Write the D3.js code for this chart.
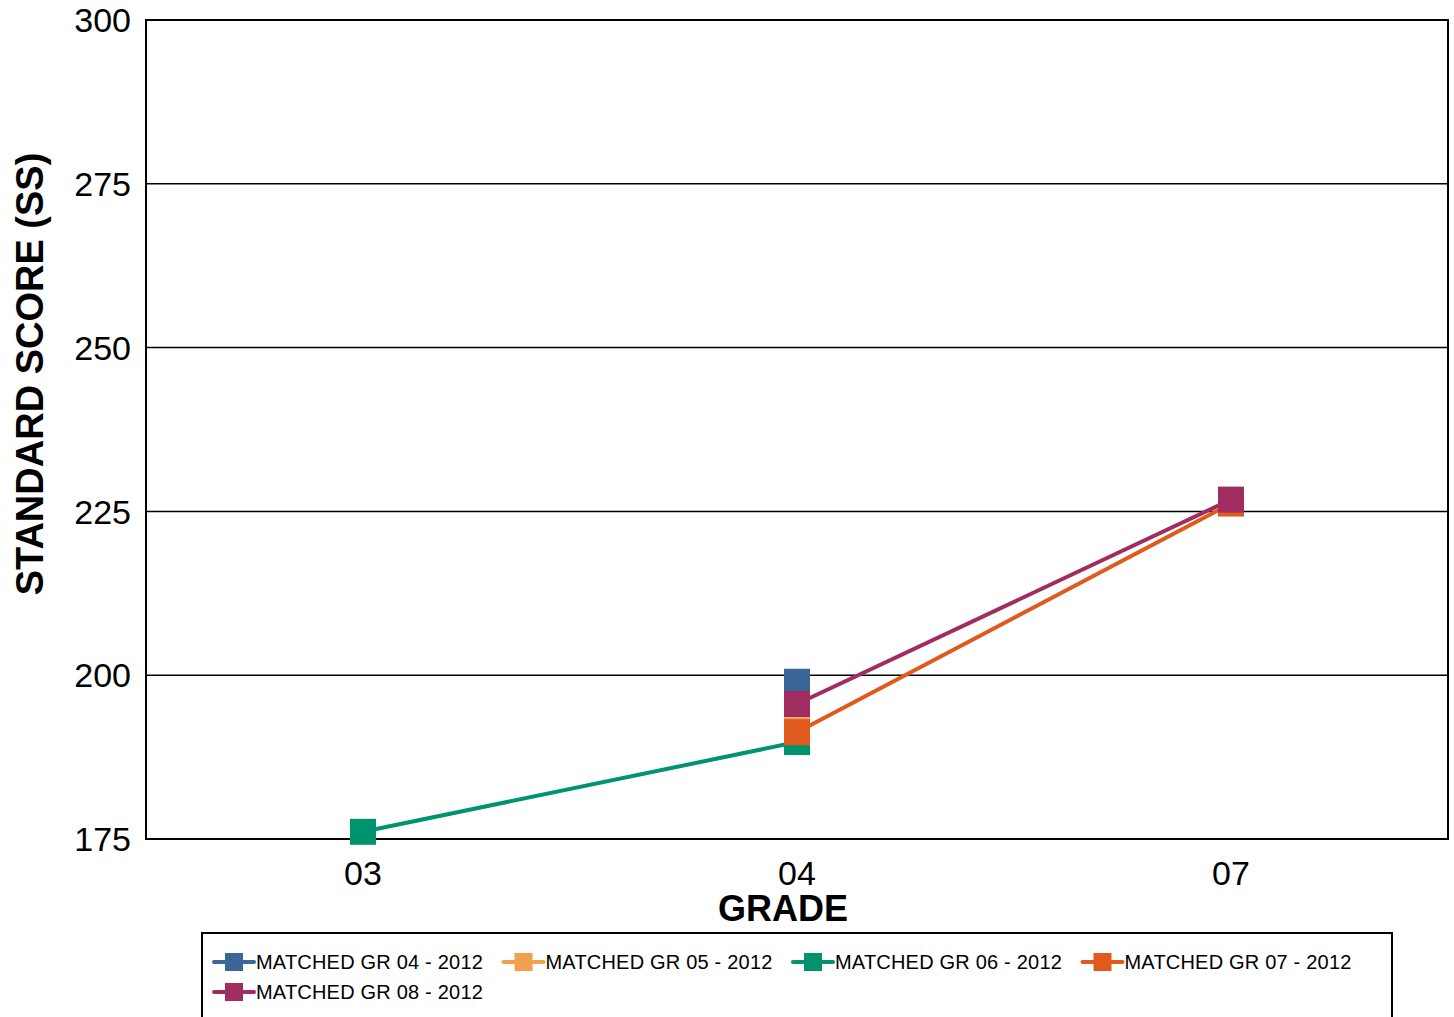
<!DOCTYPE html>
<html>
<head>
<meta charset="utf-8">
<script src="https://cdn.jsdelivr.net/npm/d3@7"></script>
<style>
  body { margin: 0; background: #fff; }
  svg { display: block; font-family: "Liberation Sans", Arial, sans-serif; }
</style>
</head>
<body>
<div id="chart"></div>
<script>
// grades on the x axis
const grades = ["03", "04", "07"];
const yTicks = [175, 200, 225, 250, 275, 300];

// one list per matched cohort
const seriesNames = ["MATCHED GR 04 - 2012", "MATCHED GR 05 - 2012", "MATCHED GR 06 - 2012",
                     "MATCHED GR 07 - 2012", "MATCHED GR 08 - 2012"];
const seriesColors = ["#3a6698", "#f0a04f", "#00936e", "#e05a1e", "#a12c5f"];
const gr04 = [{g: "04", v: 199.0}];
const gr05 = [{g: "04", v: 191.6}];
const gr06 = [{g: "03", v: 176.1}, {g: "04", v: 189.8}];
const gr07 = [{g: "04", v: 191.3}, {g: "07", v: 226.2}];
const gr08 = [{g: "04", v: 195.6}, {g: "07", v: 226.8}];
const seriesData = [gr04, gr05, gr06, gr07, gr08];

const W = 1454, H = 1017;
const margin = {top: 20, right: 6, bottom: 178, left: 146};
const width = W - margin.left - margin.right;
const height = H - margin.top - margin.bottom;

const svg = d3.select("#chart").append("svg")
    .attr("width", W)
    .attr("height", H);

const g = svg.append("g")
    .attr("transform", `translate(${margin.left},${margin.top})`);

const x = d3.scalePoint().domain(grades).range([0, width]).padding(0.5);
const y = d3.scaleLinear().domain([175, 300]).range([height, 0]);

// gridlines
g.append("g")
    .selectAll("line")
    .data(yTicks)
    .join("line")
    .attr("x1", 0).attr("x2", width)
    .attr("y1", d => y(d)).attr("y2", d => y(d))
    .attr("stroke", "#000")
    .attr("stroke-width", 1.5);

// frame
g.append("rect")
    .attr("width", width).attr("height", height)
    .attr("fill", "none")
    .attr("stroke", "#000")
    .attr("stroke-width", 2);

// y tick labels
g.append("g")
    .attr("font-size", 34)
    .attr("text-anchor", "end")
    .selectAll("text")
    .data(yTicks)
    .join("text")
    .attr("x", -15)
    .attr("y", d => y(d))
    .attr("dy", "0.36em")
    .text(d => d);

// x tick labels
g.append("g")
    .attr("font-size", 34)
    .attr("text-anchor", "middle")
    .selectAll("text")
    .data(grades)
    .join("text")
    .attr("x", d => x(d))
    .attr("y", height + 46)
    .text(d => d);

// axis titles
g.append("text")
    .attr("x", width / 2 - 14)
    .attr("y", height + 82)
    .attr("text-anchor", "middle")
    .attr("font-size", 36)
    .attr("font-weight", "bold")
    .text("GRADE");

svg.append("text")
    .attr("transform", `translate(43,${374}) rotate(-90)`)
    .attr("text-anchor", "middle")
    .attr("font-size", 38)
    .attr("font-weight", "bold")
    .text("STANDARD SCORE (SS)");

// lines and markers
const line = d3.line().x(d => x(d.g)).y(d => y(d.v));
const ms = 26;

seriesData.forEach((data, i) => {
    const s = g.append("g");
    s.append("path")
        .datum(data)
        .attr("d", line)
        .attr("fill", "none")
        .attr("stroke", seriesColors[i])
        .attr("stroke-width", 4);
    s.selectAll("rect")
        .data(data)
        .join("rect")
        .attr("x", d => x(d.g) - ms / 2)
        .attr("y", d => y(d.v) - ms / 2)
        .attr("width", ms).attr("height", ms)
        .attr("fill", seriesColors[i]);
});

// legend
const legend = svg.append("g");
legend.append("rect")
    .attr("x", 202).attr("y", 933)
    .attr("width", 1190).attr("height", 100)
    .attr("fill", "none")
    .attr("stroke", "#000")
    .attr("stroke-width", 2);

const items = legend.selectAll("g.item")
    .data(seriesNames)
    .join("g")
    .attr("class", "item")
    .attr("transform", (d, i) => `translate(${214 + (i % 4) * 289.5},${962 + Math.floor(i / 4) * 30})`);

items.append("line")
    .attr("x1", 0).attr("x2", 40)
    .attr("stroke", (d, i) => seriesColors[i])
    .attr("stroke-width", 4)
    .attr("stroke-linecap", "round");
items.append("rect")
    .attr("x", 11).attr("y", -9)
    .attr("width", 18).attr("height", 18)
    .attr("fill", (d, i) => seriesColors[i]);
items.append("text")
    .attr("x", 42)
    .attr("dy", "0.36em")
    .attr("font-size", 20)
    .attr("letter-spacing", 0.2)
    .text(d => d);
</script>
</body>
</html>
